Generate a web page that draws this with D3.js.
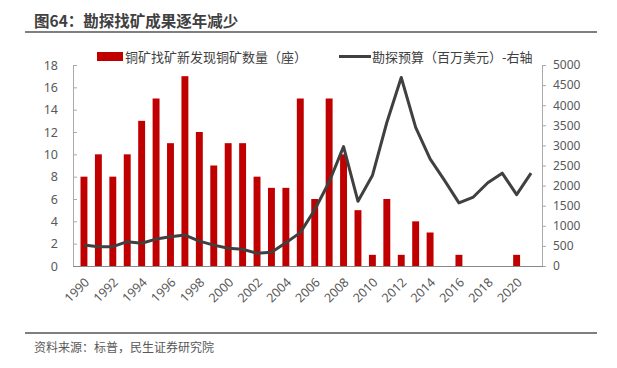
<!DOCTYPE html>
<html lang="zh">
<head>
  <meta charset="UTF-8">
  <script src="https://d3js.org/d3.v7.min.js"></script>
  <style>
    body { margin: 0; background: #fff; }
    text { font-family: "Noto Sans CJK SC", "Noto Sans", sans-serif; }
  </style>
</head>
<body>
  <script>
    const w = 617, h = 368;

    // data
    const years = d3.range(1990, 2022);
    const mines = [8, 10, 8, 10, 13, 15, 11, 17, 12, 9, 11, 11, 8, 7, 7, 15,
      6, 15, 10, 5, 1, 6, 1, 4, 3, 0, 1, 0, 0, 0, 1, 0];
    const budget = [520, 480, 480, 605, 565, 670, 730, 770, 620, 520, 440, 415,
      315, 340, 580, 830, 1400, 2090, 2970, 1610, 2250, 3570, 4690, 3450, 2665,
      2130, 1570, 1715, 2070, 2310, 1775, 2310];
    const leftTicks = [0, 2, 4, 6, 8, 10, 12, 14, 16, 18];
    const rightTicks = [0, 500, 1000, 1500, 2000, 2500, 3000, 3500, 4000, 4500, 5000];
    const xLabels = d3.range(1990, 2021, 2);

    const pLeft = 73, pRight = 542, pTop = 65, pBottom = 266;

    const svg = d3.select("body").append("svg")
      .attr("width", w)
      .attr("height", h);

    // title
    svg.append("text")
      .attr("x", 34).attr("y", 27)
      .attr("font-size", 15.5)
      .attr("font-weight", "bold")
      .attr("fill", "#404040")
      .text("图64：勘探找矿成果逐年减少");
    svg.append("line")
      .attr("x1", 25).attr("x2", 597)
      .attr("y1", 32).attr("y2", 32)
      .attr("stroke", "#555").attr("stroke-width", 1.5);

    const x = d3.scaleBand()
      .domain(years)
      .range([pLeft, pRight])
      .padding(0.52);
    const yL = d3.scaleLinear().domain([0, 18]).range([pBottom, pTop]);
    const yR = d3.scaleLinear().domain([0, 5000]).range([pBottom, pTop]);

    // bars
    svg.selectAll("rect.bar")
      .data(mines)
      .enter()
      .append("rect")
      .attr("class", "bar")
      .attr("x", (d, i) => x(years[i]))
      .attr("y", d => yL(d))
      .attr("width", x.bandwidth())
      .attr("height", d => pBottom - yL(d))
      .attr("fill", "#c00000");

    // line
    const line = d3.line()
      .x((d, i) => x(years[i]) + x.bandwidth() / 2)
      .y(d => yR(d));
    svg.append("path")
      .datum(budget)
      .attr("d", line)
      .attr("fill", "none")
      .attr("stroke", "#404040")
      .attr("stroke-width", 3)
      .attr("stroke-linejoin", "round");

    // left axis
    const gL = svg.append("g")
      .attr("transform", "translate(" + pLeft + ",0)")
      .call(d3.axisLeft(yL).tickValues(leftTicks).tickSize(-4).tickPadding(15).tickSizeOuter(0));
    // right axis
    const gR = svg.append("g")
      .attr("transform", "translate(" + pRight + ",0)")
      .call(d3.axisRight(yR).tickValues(rightTicks).tickFormat(d3.format("d"))
        .tickSize(4).tickPadding(7).tickSizeOuter(0));
    [gL, gR].forEach(g => {
      g.select(".domain").attr("stroke", "#aaa");
      g.selectAll(".tick line").attr("stroke", "#aaa");
      g.selectAll(".tick text")
        .attr("fill", "#595959")
        .attr("font-size", 12.5)
        .style("font-family", "'Noto Sans', sans-serif");
    });
    gR.selectAll(".tick text").attr("font-size", 12);

    // bottom axis
    svg.append("line")
      .attr("x1", pLeft).attr("x2", pRight + 1)
      .attr("y1", pBottom + 0.5).attr("y2", pBottom + 0.5)
      .attr("stroke", "#888").attr("stroke-width", 1);

    svg.selectAll("text.xl")
      .data(xLabels)
      .enter()
      .append("text")
      .attr("class", "xl")
      .attr("transform", d => "translate(" + (x(d) + x.bandwidth() / 2 + 3) + "," + (pBottom + 14) + ") rotate(-45)")
      .attr("text-anchor", "end")
      .attr("dy", "0.35em")
      .attr("font-size", 12.5)
      .attr("fill", "#595959")
      .style("font-family", "'Noto Sans', sans-serif")
      .text(d => d);

    // legend
    svg.append("rect")
      .attr("x", 97).attr("y", 52)
      .attr("width", 26).attr("height", 9)
      .attr("fill", "#c00000");
    svg.append("text")
      .attr("x", 125).attr("y", 61.5)
      .attr("font-size", 13)
      .attr("fill", "#404040")
      .text("铜矿找矿新发现铜矿数量（座）");
    svg.append("line")
      .attr("x1", 339).attr("x2", 371)
      .attr("y1", 56.5).attr("y2", 56.5)
      .attr("stroke", "#404040").attr("stroke-width", 3);
    svg.append("text")
      .attr("x", 372).attr("y", 61.5)
      .attr("font-size", 13)
      .attr("fill", "#404040")
      .text("勘探预算（百万美元）-右轴");

    // source
    svg.append("line")
      .attr("x1", 25).attr("x2", 597)
      .attr("y1", 333).attr("y2", 333)
      .attr("stroke", "#555").attr("stroke-width", 1.5);
    svg.append("text")
      .attr("x", 34).attr("y", 352)
      .attr("font-size", 12)
      .attr("fill", "#595959")
      .text("资料来源：标普，民生证券研究院");
  </script>
</body>
</html>
